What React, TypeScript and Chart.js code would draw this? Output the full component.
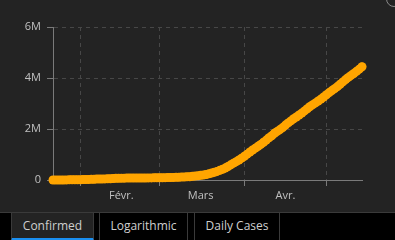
import React, { useEffect, useRef } from "react";
import { Chart, registerables } from "chart.js";

Chart.register(...registerables);

// Day index 0 = 22 Jan 2020
const startLabel = "22 Jan 2020";
const confirmed: number[] = [
  555, 654, 941, 1434, 2118, 2927, 5578, 6166, 8234, 9927,
  12038, 16787, 19881, 23892, 27635, 30794, 34391, 37120, 40150, 42762,
  44802, 45221, 60368, 66885, 69030, 71224, 73258, 75136, 75639, 76197,
  76819, 78572, 78958, 79561, 80406, 81388, 82746, 84112, 86011,
  88369, 90306, 92840, 95120, 97886, 101801, 105847, 109821, 113590, 118620,
  125875, 128352, 145205, 156101, 167454, 181574, 197102, 214821, 242570, 272208,
  304507, 336953, 378235, 418045, 467653, 529591, 593291, 660706, 720117, 782365,
  857487,
  932605, 1013157, 1095917, 1176060, 1249754, 1321481, 1396476, 1479804, 1565278, 1657526,
  1735650, 1834721, 1904838, 1976191, 2056054, 2152437, 2240190, 2317758, 2401378, 2472259,
  2549123, 2624090, 2708403, 2795729, 2881140, 2955033, 3023722, 3097229, 3172287, 3256846,
  3343777, 3427584, 3506729, 3583055, 3662691, 3755341, 3845718, 3938064, 4024009, 4101699,
  4177502, 4261747, 4347018, 4442163,
];

// month boundaries (day index): 1 Feb, 1 Mar, 1 Apr, 1 May
const monthStarts: number[] = [10, 39, 70, 100];
// mid-month label positions and their labels
const monthMids: number[] = [25, 54, 85];
const monthLabels: string[] = ["Févr.", "Mars", "Avr."];

const yTicks: number[] = [0, 2000000, 4000000, 6000000];
const yTickLabels: string[] = ["0", "2M", "4M", "6M"];

const tabs: string[] = ["Confirmed", "Logarithmic", "Daily Cases"];

const BG = "#232323";
const GRID = "#474747";
const AXIS = "#7a7a7a";
const TEXT = "#c0c0c0";
const FONT = "'Open Sans', 'Noto Sans', sans-serif";

export default function App() {
  const canvasRef = useRef<HTMLCanvasElement | null>(null);

  useEffect(() => {
    document.body.style.margin = "0";
    const ctx = canvasRef.current!;
    const points = confirmed.map((v, i) => ({ x: i, y: v }));
    const chart = new Chart(ctx, {
      type: "line",
      data: {
        datasets: [
          {
            label: "Confirmed since " + startLabel,
            data: points,
            borderColor: "#ffa500",
            backgroundColor: "#ffa500",
            borderWidth: 8,
            borderCapStyle: "round",
            borderJoinStyle: "round",
            pointRadius: 4.5,
            pointBorderWidth: 0,
            tension: 0,
            clip: false as any,
          } as any,
        ],
      },
      options: {
        animation: false,
        responsive: true,
        maintainAspectRatio: false,
        layout: { padding: { left: 0, right: 33, top: 27, bottom: 0 } },
        plugins: { legend: { display: false }, tooltip: { enabled: false } },
        scales: {
          x: {
            type: "linear",
            min: 0,
            max: confirmed.length - 1,
            afterBuildTicks: (scale: any) => {
              const all = [...monthStarts, ...monthMids].sort((a, b) => a - b);
              scale.ticks = all.map((v) => ({ value: v }));
            },
            afterFit: (scale: any) => {
              scale.height = 32;
            },
            ticks: {
              autoSkip: false,
              maxRotation: 0,
              padding: 3,
              color: TEXT,
              font: { family: FONT, size: 11 },
              callback: (v: any) => {
                const idx = monthMids.indexOf(Number(v));
                return idx >= 0 ? monthLabels[idx] : "";
              },
            },
            grid: {
              color: (c: any) =>
                c.tick && monthStarts.includes(c.tick.value) ? GRID : "rgba(0,0,0,0)",
              tickColor: (c: any) =>
                c.tick && monthStarts.includes(c.tick.value) ? AXIS : "rgba(0,0,0,0)",
              tickLength: 6,
              lineWidth: 1,
            },
            border: { display: true, color: AXIS, width: 1, dash: [4, 4] },
          },
          y: {
            min: 0,
            max: 6000000,
            afterBuildTicks: (scale: any) => {
              scale.ticks = yTicks.map((v) => ({ value: v }));
            },
            afterFit: (scale: any) => {
              scale.width = 53;
            },
            ticks: {
              padding: 6,
              color: TEXT,
              font: { family: FONT, size: 11 },
              callback: (v: any) => {
                const idx = yTicks.indexOf(Number(v));
                return idx >= 0 ? yTickLabels[idx] : "";
              },
            },
            grid: {
              color: (c: any) => (c.tick && c.tick.value === 0 ? "rgba(0,0,0,0)" : GRID),
              tickColor: AXIS,
              tickLength: 6,
              lineWidth: 1,
            },
            border: { display: true, color: AXIS, width: 1, dash: [4, 4] },
          },
        },
      },
    });
    return () => chart.destroy();
  }, []);

  const tabPos = [
    { left: 12, width: 83 },
    { left: 100, width: 89 },
    { left: 195, width: 86 },
  ];

  return (
    <div
      style={{
        position: "relative",
        width: 395,
        height: 240,
        background: BG,
        overflow: "hidden",
        fontFamily: FONT,
      }}
    >
      <div style={{ position: "absolute", left: 0, top: 0, width: 395, height: 212 }}>
        <canvas ref={canvasRef} />
      </div>
      <div
        style={{
          position: "absolute",
          right: -7,
          top: -9,
          width: 16,
          height: 16,
          borderRadius: "50%",
          border: "1.5px solid #8a8a8a",
          boxSizing: "border-box",
        }}
      />
      <div
        style={{
          position: "absolute",
          left: 0,
          top: 212,
          width: 395,
          height: 28,
          background: "#000",
          borderTop: "1px solid #3a3a3a",
          boxSizing: "border-box",
        }}
      >
        {tabs.map((t, i) => (
          <div
            key={t}
            style={{
              position: "absolute",
              left: tabPos[i].left - 1,
              top: -1,
              width: tabPos[i].width,
              height: 29,
              boxSizing: "border-box",
              background: i === 0 ? BG : "#000",
              borderLeft: "1px solid #3a3a3a",
              borderRight: "1px solid #3a3a3a",
              borderTop: "1px solid #3a3a3a",
              borderBottom: i === 0 ? "3px solid #1a8ff0" : "none",
              color: "#cfcfcf",
              fontSize: 12,
              display: "flex",
              alignItems: "center",
              justifyContent: "center",
              paddingBottom: i === 0 ? 0 : 3,
            }}
          >
            {t}
          </div>
        ))}
      </div>
    </div>
  );
}
